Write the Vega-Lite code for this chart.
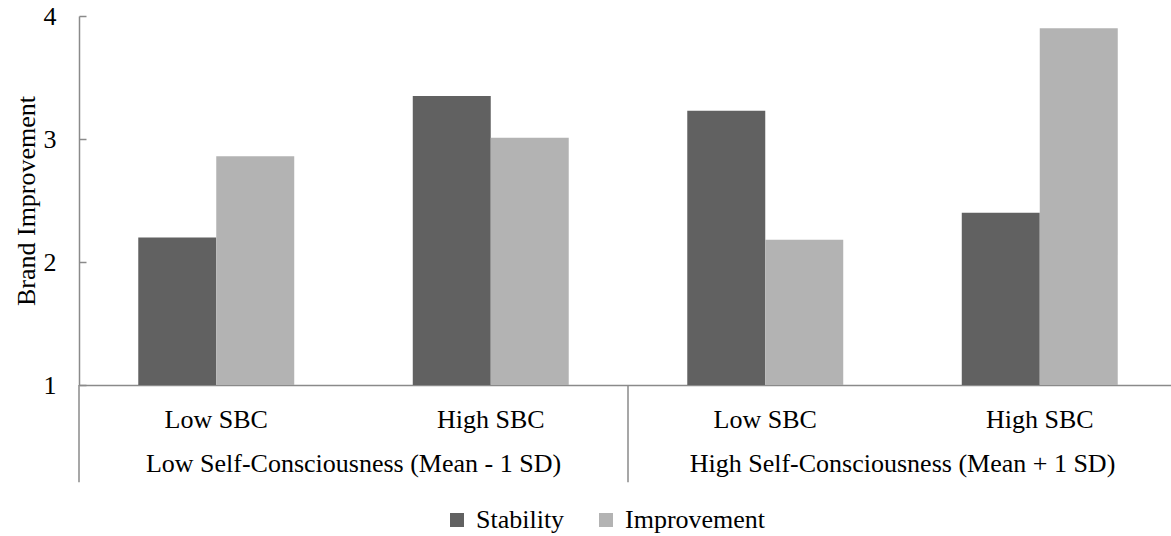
{
  "$schema": "https://vega.github.io/schema/vega-lite/v6.json",
  "width": 1098,
  "height": 369,
  "autosize": {"type": "none"},
  "padding": {"left": 79, "top": 16, "right": 0, "bottom": 151},
  "config": {
    "view": {"stroke": null},
    "font": "Liberation Serif",
    "axis": {"labelColor": "black", "titleColor": "black", "domainColor": "#8a8a8a", "tickColor": "#8a8a8a", "domainWidth": 1.5, "tickWidth": 1.5, "labelFont": "Liberation Serif", "titleFont": "Liberation Serif"},
    "legend": {"labelFont": "Liberation Serif", "labelColor": "black"}
  },
  "layer": [
    {
      "data": {"values": [
        {"cat": "Low SC|Low SBC", "series": "Stability", "value": 2.20},
        {"cat": "Low SC|Low SBC", "series": "Improvement", "value": 2.86},
        {"cat": "Low SC|High SBC", "series": "Stability", "value": 3.35},
        {"cat": "Low SC|High SBC", "series": "Improvement", "value": 3.01},
        {"cat": "High SC|Low SBC", "series": "Stability", "value": 3.23},
        {"cat": "High SC|Low SBC", "series": "Improvement", "value": 2.18},
        {"cat": "High SC|High SBC", "series": "Stability", "value": 2.40},
        {"cat": "High SC|High SBC", "series": "Improvement", "value": 3.90}
      ]},
      "mark": {"type": "bar"},
      "encoding": {
        "x": {
          "field": "cat", "type": "nominal",
          "sort": ["Low SC|Low SBC", "Low SC|High SBC", "High SC|Low SBC", "High SC|High SBC"],
          "scale": {"paddingInner": 0, "paddingOuter": 0},
          "axis": {"title": null, "labelExpr": "split(datum.label, '|')[1]", "ticks": false, "labelPadding": 21, "labelFontSize": 26, "labelAngle": 0}
        },
        "xOffset": {
          "field": "series", "type": "nominal",
          "sort": ["Stability", "Improvement"],
          "scale": {"paddingInner": 0, "paddingOuter": 0.76}
        },
        "y": {
          "field": "value", "type": "quantitative",
          "scale": {"domain": [1, 4], "nice": false, "zero": false},
          "axis": {"title": "Brand Improvement", "values": [1, 2, 3, 4], "format": "d", "grid": false, "tickSize": -7, "labelPadding": 30, "labelFontSize": 26, "titleFontSize": 26, "titleFontWeight": "normal", "titlePadding": 4}
        },
        "y2": {"datum": 1},
        "color": {
          "field": "series", "type": "nominal",
          "sort": ["Stability", "Improvement"],
          "scale": {"domain": ["Stability", "Improvement"], "range": ["#616161", "#b3b3b3"]},
          "legend": {"title": null, "orient": "none", "legendX": 365, "legendY": 491, "direction": "horizontal", "symbolType": "square", "symbolSize": 196, "symbolStrokeWidth": 0, "labelFontSize": 26, "labelOffset": 6, "columnPadding": 28, "padding": 0}
        }
      }
    },
    {
      "data": {"values": [
        {"cat": "Low SC|Low SBC"},
        {"cat": "High SC|Low SBC"}
      ]},
      "mark": {"type": "rule", "color": "#8a8a8a", "strokeWidth": 1.5},
      "encoding": {
        "x": {"field": "cat", "type": "nominal", "bandPosition": 0, "sort": ["Low SC|Low SBC", "Low SC|High SBC", "High SC|Low SBC", "High SC|High SBC"]},
        "y": {"datum": 1},
        "y2": {"datum": 0.21}
      }
    },
    {
      "data": {"values": [
        {"cat": "Low SC|High SBC", "label": "Low Self-Consciousness (Mean - 1 SD)"},
        {"cat": "High SC|High SBC", "label": "High Self-Consciousness (Mean + 1 SD)"}
      ]},
      "mark": {"type": "text", "fontSize": 26, "baseline": "alphabetic", "align": "center", "color": "black", "font": "Liberation Serif"},
      "encoding": {
        "x": {"field": "cat", "type": "nominal", "bandPosition": 0, "sort": ["Low SC|Low SBC", "Low SC|High SBC", "High SC|Low SBC", "High SC|High SBC"]},
        "y": {"datum": 0.293},
        "text": {"field": "label"}
      }
    }
  ]
}
